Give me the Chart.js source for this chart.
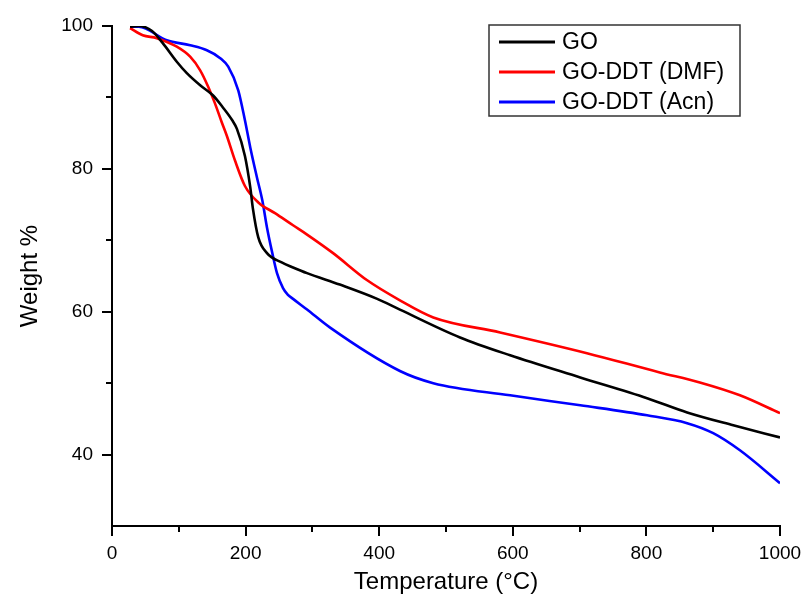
<!DOCTYPE html>
<html>
<head>
<meta charset="utf-8">
<script src="https://cdn.jsdelivr.net/npm/chart.js"></script>
<style>
  html, body { margin: 0; padding: 0; background: #fff; }
  #wrap { width: 804px; height: 601px; }
</style>
</head>
<body>
<div id="wrap"><canvas id="tga-chart" width="804" height="601"></canvas></div>
<script>
// Dados (temperatura em °C, massa em %)
const goTemp = [27, 40, 60, 76, 97, 112, 132, 151, 166, 180, 187, 199, 207, 211, 219, 232, 254, 271, 292, 341, 397, 431, 521, 596, 701, 801, 861, 930, 1000];
const goWeight = [99.9, 100, 99.3, 97.6, 95, 93.4, 91.7, 90.3, 88.6, 86.8, 85.6, 81.8, 77.4, 74.4, 70.4, 68.2, 66.9, 66.2, 65.4, 63.8, 61.8, 60.3, 56.4, 53.9, 50.8, 47.9, 45.9, 44.1, 42.4];

const dmfTemp = [27, 46, 67, 97, 117, 132, 144, 154, 164, 172, 184, 199, 219, 244, 271, 292, 331, 382, 431, 481, 581, 711, 820, 880, 940, 1000];
const dmfWeight = [99.7, 98.7, 98.3, 97.1, 95.7, 93.8, 91.5, 89.2, 86.6, 84.6, 81.2, 77.6, 75.3, 73.8, 72.1, 70.8, 68.2, 64.4, 61.6, 59.2, 57.1, 54.2, 51.5, 50.1, 48.3, 45.8];

const acnTemp = [27, 40, 82, 117, 142, 162, 174, 189, 199, 207, 217, 225, 232, 240, 247, 256, 263, 271, 292, 326, 431, 481, 596, 701, 801, 861, 900, 940, 1000];
const acnWeight = [99.9, 99.9, 98, 97.3, 96.6, 95.5, 94.3, 91, 86.8, 83, 78.8, 75.6, 71.8, 68.2, 65.4, 63.3, 62.4, 61.8, 60.3, 57.8, 51.7, 50, 48.3, 46.9, 45.5, 44.4, 43, 40.6, 36];

const seriesLabels = ['GO', 'GO-DDT (DMF)', 'GO-DDT (Acn)'];
const seriesColors = ['#000000', '#ff0000', '#0000ff'];

const xTicks = [0, 200, 400, 600, 800, 1000];
const yTicks = [40, 60, 80, 100];

function toPoints(temps, weights) {
    return temps.map((t, i) => ({ x: t, y: weights[i] }));
}

const FONT = 'Arial, "Liberation Sans", sans-serif';

// Ticks menores (entre os maiores) desenhados à mão
const minorTicks = {
    id: 'minorTicks',
    afterDraw(chart) {
        const ctx = chart.ctx;
        const xs = chart.scales.x, ys = chart.scales.y;
        ctx.save();
        ctx.strokeStyle = '#000';
        ctx.lineWidth = 2;
        for (let i = 0; i < xTicks.length - 1; i++) {
            const px = Math.round(xs.getPixelForValue((xTicks[i] + xTicks[i + 1]) / 2));
            ctx.beginPath();
            ctx.moveTo(px, ys.bottom);
            ctx.lineTo(px, ys.bottom + 6);
            ctx.stroke();
        }
        const yMinor = [50, 70, 90];
        yMinor.forEach(v => {
            const py = Math.round(ys.getPixelForValue(v));
            ctx.beginPath();
            ctx.moveTo(xs.left, py);
            ctx.lineTo(xs.left - 6, py);
            ctx.stroke();
        });
        ctx.restore();
    }
};

// Legenda em caixa, no estilo do Origin
const boxLegend = {
    id: 'boxLegend',
    afterDraw(chart) {
        const ctx = chart.ctx;
        const left = 489, top = 25, w = 251, h = 91;
        ctx.save();
        ctx.strokeStyle = '#333';
        ctx.lineWidth = 1.5;
        ctx.strokeRect(left, top, w, h);
        ctx.font = '23px ' + FONT;
        ctx.textBaseline = 'middle';
        ctx.fillStyle = '#000';
        chart.data.datasets.forEach((ds, i) => {
            const y = top + 17 + i * 30;
            ctx.strokeStyle = ds.borderColor;
            ctx.lineWidth = 3;
            ctx.beginPath();
            ctx.moveTo(499, y);
            ctx.lineTo(555, y);
            ctx.stroke();
            ctx.fillText(ds.label, 562, y + 1);
        });
        ctx.restore();
    }
};

(function() {
    const canvas = document.getElementById('tga-chart');
    new Chart(canvas, {
        type: 'line',
        data: {
            datasets: [
                { label: seriesLabels[0], data: toPoints(goTemp, goWeight), borderColor: seriesColors[0] },
                { label: seriesLabels[1], data: toPoints(dmfTemp, dmfWeight), borderColor: seriesColors[1] },
                { label: seriesLabels[2], data: toPoints(acnTemp, acnWeight), borderColor: seriesColors[2] }
            ].map(ds => Object.assign(ds, {
                borderWidth: 2.6,
                pointRadius: 0,
                fill: false,
                cubicInterpolationMode: 'monotone'
            }))
        },
        options: {
            responsive: false,
            animation: false,
            layout: { padding: { top: 26, right: 24, left: 0, bottom: 0 } },
            plugins: {
                legend: { display: false },
                tooltip: { enabled: false }
            },
            scales: {
                x: {
                    type: 'linear',
                    min: 0,
                    max: 1000,
                    afterBuildTicks: s => { s.ticks = xTicks.map(v => ({ value: v })); },
                    afterFit: s => { s.height = 75; s.paddingRight = 0; s.paddingLeft = 0; },
                    border: { display: true, color: '#000', width: 2 },
                    grid: { drawOnChartArea: false, drawTicks: true, tickLength: 10, color: '#000', lineWidth: 2 },
                    ticks: { color: '#000', font: { family: FONT, size: 19 }, padding: 6, maxRotation: 0, callback: v => String(v) },
                    title: { display: true, text: 'Temperature (°C)', color: '#000', font: { family: FONT, size: 24 }, padding: { top: 4, bottom: 4 } }
                },
                y: {
                    type: 'linear',
                    min: 30,
                    max: 100,
                    afterBuildTicks: s => { s.ticks = yTicks.map(v => ({ value: v })); },
                    afterFit: s => { s.width = 112; s.paddingTop = 0; s.paddingBottom = 0; },
                    border: { display: true, color: '#000', width: 2 },
                    grid: { drawOnChartArea: false, drawTicks: true, tickLength: 10, color: '#000', lineWidth: 2 },
                    ticks: { color: '#000', font: { family: FONT, size: 19 }, padding: 9, callback: v => String(v) },
                    title: { display: true, text: 'Weight %', color: '#000', font: { family: FONT, size: 24 }, padding: { top: 16, bottom: 0 } }
                }
            }
        },
        plugins: [minorTicks, boxLegend]
    });
})();
</script>
</body>
</html>
